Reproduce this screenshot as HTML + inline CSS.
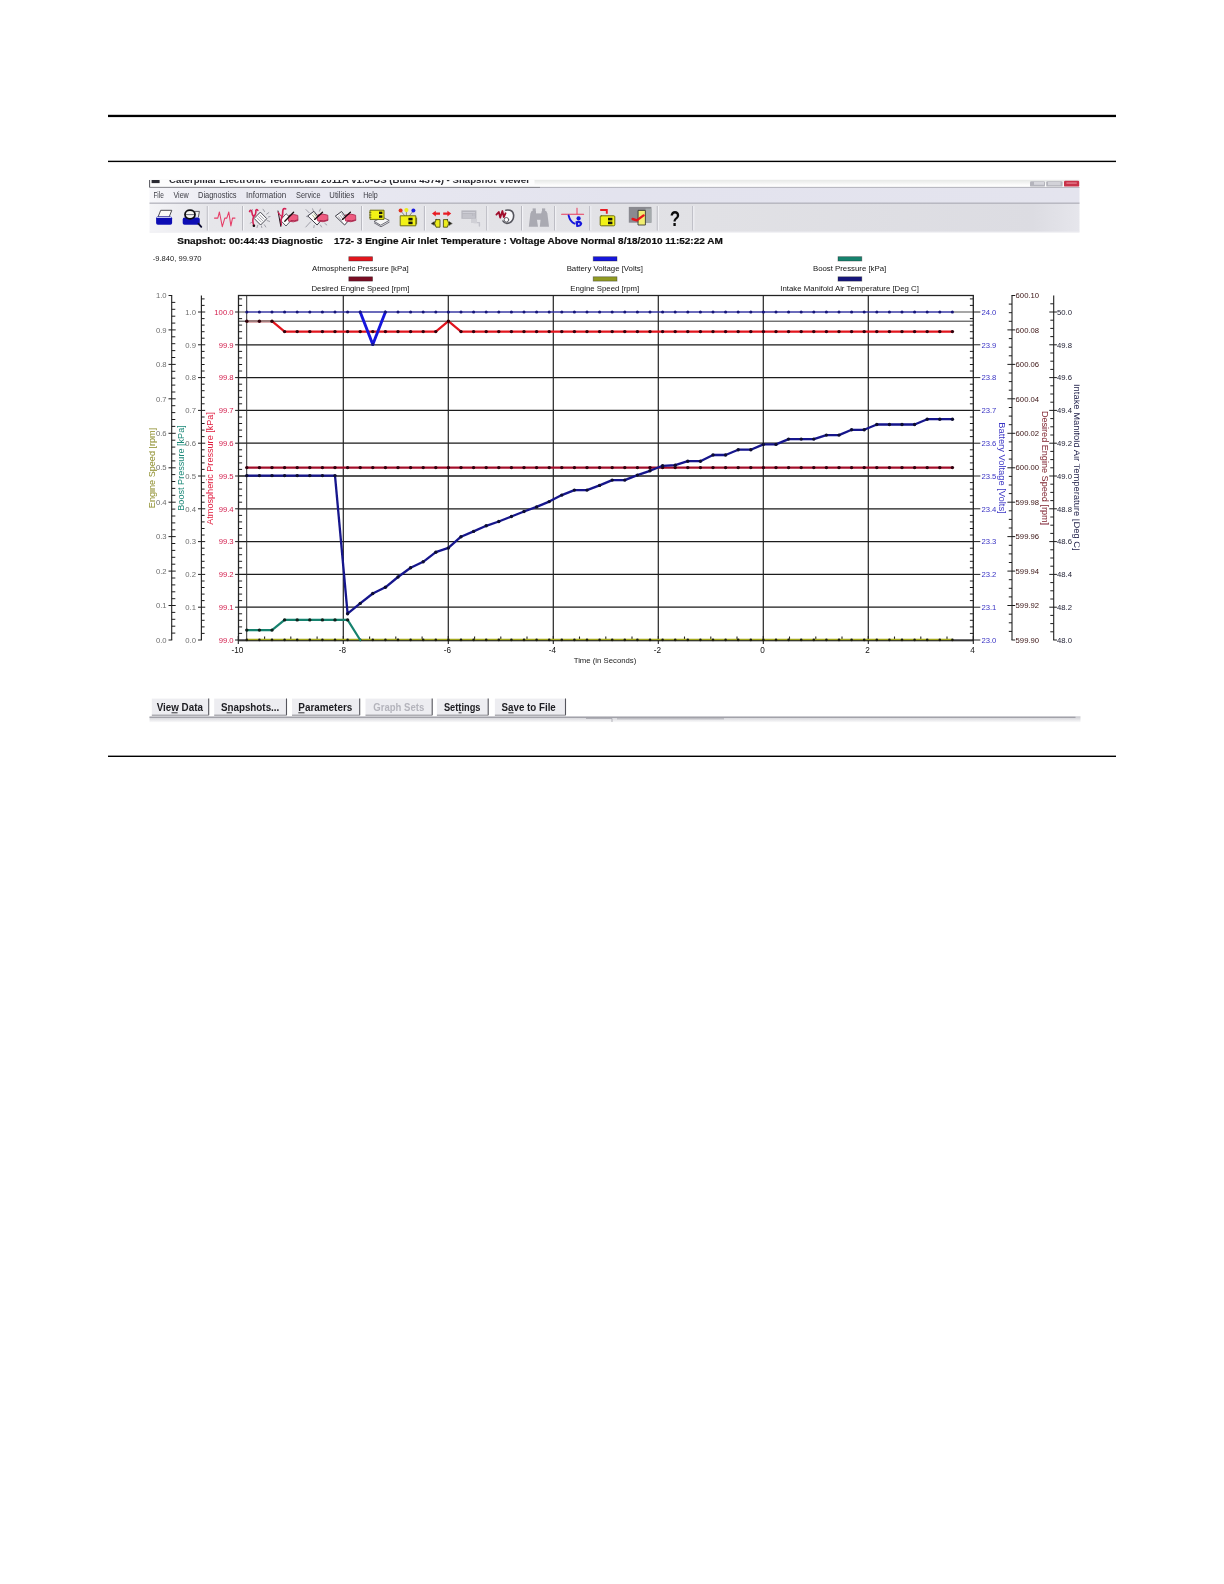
<!DOCTYPE html>
<html><head><meta charset="utf-8"><title>Snapshot Viewer</title>
<style>
html,body{margin:0;padding:0;background:#fff;}
body{width:1224px;height:1584px;overflow:hidden;font-family:"Liberation Sans",sans-serif;}
svg{display:block;}
text{font-family:"Liberation Sans",sans-serif;}
</style></head>
<body>
<svg width="1224" height="1584" viewBox="0 0 1224 1584">
<rect width="1224" height="1584" fill="#fff"/>
<rect x="108" y="114.8" width="1008" height="2.3" fill="#000"/>
<rect x="108" y="160.7" width="1008" height="1.4" fill="#000"/>
<rect x="108" y="755.6" width="1008" height="1.4" fill="#000"/>
<filter id="softblur" x="0" y="0" width="100%" height="100%" filterUnits="userSpaceOnUse" primitiveUnits="userSpaceOnUse"><feGaussianBlur stdDeviation="0.45"/></filter>
<g filter="url(#softblur)">
<defs>
<linearGradient id="tbg" x1="0" y1="0" x2="1" y2="0">
<stop offset="0" stop-color="#f4f4f7"/><stop offset="0.06" stop-color="#e6e6ea"/><stop offset="0.6" stop-color="#e1e1e5"/><stop offset="0.95" stop-color="#dcdce2"/><stop offset="1" stop-color="#e6e6ec"/>
</linearGradient>
<linearGradient id="mbg" x1="0" y1="0" x2="1" y2="0">
<stop offset="0" stop-color="#f6f6fa"/><stop offset="0.08" stop-color="#eaeaf2"/><stop offset="0.5" stop-color="#e3e3ee"/><stop offset="1" stop-color="#e4e4ee"/>
</linearGradient>
<linearGradient id="sbg" x1="0" y1="0" x2="0" y2="1">
<stop offset="0" stop-color="#c4c4ca"/><stop offset="0.3" stop-color="#dadade"/><stop offset="1" stop-color="#fafafb"/>
</linearGradient>
<clipPath id="titleclip"><rect x="149" y="179.9" width="931" height="6.6"/></clipPath>
<linearGradient id="ttl" x1="0" y1="0" x2="0" y2="1"><stop offset="0" stop-color="#e6e8e6"/><stop offset="0.7" stop-color="#fbfbfb"/><stop offset="1" stop-color="#ffffff"/></linearGradient>
</defs>
<g id="chrome" font-family="Liberation Sans, sans-serif">
<!-- title bar remnant -->
<rect x="149.5" y="179.8" width="930" height="7.2" fill="url(#ttl)"/>
<rect x="149.5" y="179.8" width="385" height="7.2" fill="#fdfdfd"/>
<g clip-path="url(#titleclip)">
<rect x="151.6" y="179.9" width="8" height="3.2" fill="#2a2a30"/>
<text x="169" y="182.8" font-size="8.6" font-weight="bold" fill="#2a2a30" textLength="361" lengthAdjust="spacingAndGlyphs">Caterpillar Electronic Technician 2011A v1.0-US (Build 4374) - Snapshot Viewer</text>
</g>
<path d="M149.6 180V187.4H540" stroke="#55555c" stroke-width="1" fill="none"/>
<path d="M540 187.4H1079.5" stroke="#9c9ca6" stroke-width="1" fill="none"/>
<!-- window buttons -->
<rect x="1030" y="181.2" width="15" height="5.4" rx="1.2" fill="#b4b4bc"/>
<rect x="1034" y="181.8" width="10" height="3" fill="#d6d6dc"/>
<rect x="1046.2" y="181.2" width="16.4" height="5.4" rx="1.2" fill="#b4b4bc"/>
<rect x="1048" y="182" width="12.6" height="3.2" fill="#d2d2d8"/>
<rect x="1064" y="180.8" width="15.2" height="5.8" rx="1.2" fill="#c8324a"/>
<rect x="1066.4" y="182.2" width="10.4" height="1.8" fill="#dc6a7c"/>
<!-- menu bar -->
<rect x="149.5" y="187.7" width="930" height="15.4" fill="url(#mbg)"/>
<g font-size="8.2" fill="#3c3c44">
<text x="153.4" y="197.9" textLength="10.4" lengthAdjust="spacingAndGlyphs">File</text>
<text x="173.4" y="197.9" textLength="15.4" lengthAdjust="spacingAndGlyphs">View</text>
<text x="198" y="197.9" textLength="38.6" lengthAdjust="spacingAndGlyphs">Diagnostics</text>
<text x="246" y="197.9" textLength="40.2" lengthAdjust="spacingAndGlyphs">Information</text>
<text x="296" y="197.9" textLength="24.6" lengthAdjust="spacingAndGlyphs">Service</text>
<text x="329.3" y="197.9" textLength="25" lengthAdjust="spacingAndGlyphs">Utilities</text>
<text x="363.2" y="197.9" textLength="14.6" lengthAdjust="spacingAndGlyphs">Help</text>
</g>
<!-- toolbar -->
<rect x="149.5" y="203.1" width="930" height="29" fill="url(#tbg)"/>
<rect x="149.5" y="202.6" width="930" height="1.1" fill="#a8a8b2"/>
<rect x="149.5" y="231.6" width="930" height="1.2" fill="#f0f0f4"/>
<path d="M207.3 206V230.5M242.6 206V230.5M361.6 206V230.5M424.4 206V230.5M486.8 206V230.5M521.6 206V230.5M554.7 206V230.5M589.8 206V230.5M657.3 206V230.5M692.8 206V230.5" stroke="#b4b4bc" stroke-width="1" fill="none"/>
<path d="M208.3 206V230.5M243.6 206V230.5M362.6 206V230.5M425.4 206V230.5M487.8 206V230.5M522.6 206V230.5M555.7 206V230.5M590.8 206V230.5M658.3 206V230.5M693.8 206V230.5" stroke="#f6f6f9" stroke-width="1" fill="none"/>
<g id="icons" stroke-linejoin="round" stroke-linecap="round">
<!-- 1 print -->
<path d="M158.2 216.6L160.7 210.3H171.8L169.3 216.6Z" fill="#fbfbf6" stroke="#3a3a40" stroke-width="0.9"/>
<rect x="156.1" y="216.5" width="16" height="8.2" rx="1.8" fill="#1010b4"/>
<path d="M157 217.4H171" stroke="#d8dcf4" stroke-width="1"/>
<!-- 2 print preview -->
<path d="M194.6 211.4H199.4L198.4 217" fill="#f2f2ee" stroke="#3a3a40" stroke-width="0.8"/>
<rect x="182.7" y="217.6" width="17.1" height="7.2" rx="1.8" fill="#1010b4"/>
<ellipse cx="190" cy="214.5" rx="5" ry="4.3" fill="#f6f6f0" stroke="#0c0c10" stroke-width="1.8"/>
<path d="M186.4 214.6H193.6" stroke="#6c6c78" stroke-width="1"/>
<path d="M198.4 223.6L201.3 226.8" stroke="#0c0c30" stroke-width="1.8"/>
<!-- 3 waveform -->
<path d="M214.5 218.1H217.8L219.4 212L222.3 226.7L224.8 218.1H226.8L228.8 212L230.9 225.9L232.5 218.1H235" fill="none" stroke="#e63c66" stroke-width="1.05"/>
<!-- 4 stethoscope + doc + rays -->
<g>
<path d="M252.5 209.5L250.6 212.2M263 209.2L264.6 211.6M268.8 212.6L266.6 214.2M269.6 221.4L267.2 220.6M265.8 227L264.4 224.8M257 227.6L257.8 225.2M250.2 223.2L252 222.2M268.4 217L270 216.6M261.8 227.6L261.4 226" stroke="#8e8e98" stroke-width="0.8" fill="none"/>
<path d="M260.6 212.4L266.8 218.7L260.6 225L254.4 218.7Z" fill="#fbfbfb" stroke="#4c4c56" stroke-width="1"/>
<path d="M258.6 216.6L262.6 220.6M257.2 218L261.2 222M260 215.2L264 219.2" stroke="#80808c" stroke-width="0.7"/>
<path d="M249.6 211.4Q250.4 209.4 251.6 210.8Q252 214.6 253.6 216.8M257.8 210.4Q256.6 208.6 255.8 210.6Q256.4 214.6 253.6 216.8Q252 221 253.8 225.4" fill="none" stroke="#d42456" stroke-width="1.6"/>
<circle cx="253.9" cy="225.8" r="1.3" fill="#18080c"/>
</g>
<!-- 5 stethoscope + doc + hand -->
<g>
<path d="M286.4 214L292 219.4L286 226L280.6 220.4Z" fill="#fbfbfb" stroke="#4c4c56" stroke-width="0.9"/>
<path d="M285.6 208.8Q283.2 207.8 282.8 210.8Q283 214.8 281.6 217.6Q280.4 221.4 281.2 225" fill="none" stroke="#d42456" stroke-width="1.7"/>
<path d="M278 211L280.8 226.4" stroke="#28101c" stroke-width="1"/>
<path d="M278.4 212.6Q279.8 215.6 282 216.8" fill="none" stroke="#d42456" stroke-width="1.3"/>
<path d="M289.2 215.4Q293.4 213.4 297.8 215.4L298 220.6Q293.6 222.8 288.6 221.2Q287.4 218 289.2 215.4Z" fill="#ee5c80" stroke="#a82c50" stroke-width="0.8"/>
<path d="M291 220.6Q294.4 221.4 297.6 220" fill="none" stroke="#a02448" stroke-width="0.9"/>
<path d="M293.6 212.3L284.8 221.2" stroke="#18080c" stroke-width="1.3"/>
</g>
<!-- 6 rays + doc + hand -->
<g>
<path d="M306 209.6L309.2 212.8M312.6 208.8L313.4 211M320.4 209L319.4 211.2M305.8 227L310.6 221.8M313.8 227.6L314.2 225.4M321.6 227L320.4 225M326.8 225L324.8 223.4M306.4 216.4L307.6 216.8" stroke="#8e8e98" stroke-width="0.8" fill="none"/>
<path d="M314.2 211.6L321 220.6L317.1 225L308 216.2Z" fill="#fbfbfb" stroke="#3c3c46" stroke-width="1"/>
<path d="M312.4 215L315.8 219.4M314 213.6L317.4 218" stroke="#8c9c5c" stroke-width="0.7"/>
<path d="M318 215Q322.8 213 327.8 215.2L328 220.4Q323.2 222.8 317.8 221Q316.4 217.8 318 215Z" fill="#ee5c80" stroke="#a82c50" stroke-width="0.8"/>
<path d="M320 220.6Q324 221.6 327.6 220" fill="none" stroke="#a02448" stroke-width="0.9"/>
<path d="M322.5 212.3L314.6 219.4" stroke="#18080c" stroke-width="1.3"/>
</g>
<!-- 7 doc + hand -->
<g>
<path d="M341.8 211.8L348.6 220.6L344.6 225L335.6 216.4Z" fill="#fbfbfb" stroke="#3c3c46" stroke-width="1"/>
<path d="M340 215.2L343.4 219.6M341.6 213.8L345 218.2M338.4 216.6L341.8 221" stroke="#80808c" stroke-width="0.7"/>
<path d="M345.8 215Q350.6 213 355.6 215.2L355.8 220.4Q351 222.8 345.6 221Q344.2 217.8 345.8 215Z" fill="#ee5c80" stroke="#a82c50" stroke-width="0.8"/>
<path d="M347.8 220.6Q351.8 221.6 355.4 220" fill="none" stroke="#a02448" stroke-width="0.9"/>
<path d="M350.4 212.3L342.4 219.4" stroke="#18080c" stroke-width="1.3"/>
</g>
<!-- 8 ECM + papers -->
<g>
<path d="M374.4 221.2L382.6 217.2L389.2 220.4L381 225Z" fill="#f6f6f6" stroke="#50505a" stroke-width="0.8"/>
<path d="M374.4 223L381 226.8L389.2 222.2" fill="none" stroke="#50505a" stroke-width="0.8"/>
<rect x="370.4" y="210.2" width="13.6" height="9.2" fill="#f2f216" stroke="#6c6c10" stroke-width="1"/>
<rect x="379" y="211.6" width="3.4" height="2.4" fill="#18180c"/>
<rect x="379" y="215.4" width="3.4" height="2.4" fill="#18180c"/>
<path d="M369.6 212.4H371M369.6 215H371M369.6 217.4H371" stroke="#6c6c10" stroke-width="0.9"/>
</g>
<!-- 9 ECM + balls -->
<g>
<path d="M400.8 211L405 216M406.4 210.6V216M413.2 211L409.2 216" stroke="#70706c" stroke-width="0.8"/>
<circle cx="400.6" cy="210.6" r="2" fill="#e0301c"/>
<circle cx="406.4" cy="210.1" r="2.1" fill="#ecec20"/>
<circle cx="413.4" cy="210.6" r="2" fill="#1c1ce0"/>
<rect x="400.6" y="215.8" width="15.2" height="10" fill="#f2f216" stroke="#6c6c10" stroke-width="1"/>
<rect x="408.4" y="217.8" width="4.2" height="2.6" fill="#18180c"/>
<rect x="408.4" y="221.6" width="4.2" height="2.6" fill="#18180c"/>
<path d="M416.6 218V224" stroke="#6c6c10" stroke-width="1"/>
</g>
<!-- 10 arrows + halves -->
<g>
<path d="M432 213.6L435.8 210.8V212.4H440V214.8H435.8V216.4Z" fill="#e81c24"/>
<path d="M451.2 213.6L447.4 210.8V212.4H443.2V214.8H447.4V216.4Z" fill="#e81c24"/>
<path d="M436 219.6H440V227.2H436Q433.2 223.4 436 219.6Z" fill="#ecec1c" stroke="#3c3c0c" stroke-width="0.8"/>
<path d="M447.4 219.6H443.4V227.2H447.4Q450.2 223.4 447.4 219.6Z" fill="#ecec1c" stroke="#3c3c0c" stroke-width="0.8"/>
<path d="M431.4 223.4L434.4 221.6V225.2ZM452 223.4L449 221.6V225.2Z" fill="#28281c" stroke="#28281c" stroke-width="0.4"/>
</g>
<!-- 11 disabled -->
<g>
<rect x="461.4" y="210.4" width="15" height="8.4" fill="#b6b6be"/>
<path d="M463 212.6H474.6M463 215H472M463 217H474.6" stroke="#d8d8de" stroke-width="0.8"/>
<path d="M474 214V222.6H479.4V226" fill="none" stroke="#c4c4cc" stroke-width="1.4"/>
<rect x="471" y="219" width="6" height="4" fill="#d0d0d6"/>
</g>
<!-- 12 ring + squiggle -->
<g>
<path d="M505.8 210.2Q512.8 209.2 513.6 214.8Q514 220.6 509.6 222.8Q504.8 224.4 503 221" fill="#f8f8fa" stroke="#54545c" stroke-width="1.6"/>
<circle cx="506.4" cy="219.8" r="2.3" fill="#fcfcfc" stroke="#5c5c64" stroke-width="1"/>
<path d="M496.4 214.6L498.8 212L500.2 217.6L502.4 211L503.8 217L505.6 213.2" fill="none" stroke="#a0082a" stroke-width="1.8"/>
</g>
<!-- 13 binoculars -->
<g fill="#aaaab2">
<path d="M531.6 211H536V213.6L538 226.8H528.8L530.4 213.6Z"/>
<path d="M541.8 211H546.2L547.4 213.6L549 226.8H539.8L541.2 213.6Z"/>
<rect x="535" y="213.4" width="7.6" height="6.4"/>
<rect x="532.6" y="208.4" width="3.2" height="3"/>
<rect x="542" y="208.4" width="3.2" height="3"/>
</g>
<!-- 14 line + blue figure -->
<g>
<path d="M561.6 214.2H583.6" stroke="#e83a5c" stroke-width="1.1"/>
<path d="M577 208.2V214" stroke="#e83a5c" stroke-width="1"/>
<path d="M568.6 215.4Q570.2 221.8 574.6 223.6" fill="none" stroke="#1414dc" stroke-width="1.9"/>
<circle cx="578.6" cy="218.4" r="2.1" fill="#1414dc"/>
<path d="M575.4 221.4Q581.4 219.6 582.2 223.8Q581 227.4 576.4 227Z" fill="#1414dc"/>
<circle cx="578.8" cy="223.9" r="0.9" fill="#e4e4ec"/>
</g>
<!-- 15 ECM + red arrow -->
<g>
<path d="M600.2 210H606.8V213.8" fill="none" stroke="#e81c24" stroke-width="1.9" stroke-linecap="butt" stroke-linejoin="miter"/>
<rect x="600.2" y="215.8" width="14.6" height="10" rx="1" fill="#f2f216" stroke="#6c6c10" stroke-width="1"/>
<rect x="608" y="217.8" width="4.4" height="2.6" fill="#18180c"/>
<rect x="608" y="221.6" width="4.4" height="2.6" fill="#18180c"/>
</g>
<!-- 16 check box -->
<g>
<rect x="628.8" y="206.9" width="22.6" height="15.8" fill="#8a8a90"/>
<rect x="645.6" y="208.6" width="5.8" height="14.1" fill="#a4aaac"/>
<rect x="638.4" y="210.4" width="7" height="14.6" fill="#f2ee70" stroke="#3c3c34" stroke-width="0.9"/>
<path d="M632.6 219L636.8 220.4L643.6 215.4" fill="none" stroke="#e4141c" stroke-width="2.4"/>
</g>
<!-- 17 question -->
<text x="675" y="225.8" font-family="Liberation Sans, sans-serif" font-size="21.5" font-weight="bold" fill="#0c0c0c" text-anchor="middle" textLength="10.4" lengthAdjust="spacingAndGlyphs">?</text>
</g>

<!-- snapshot title -->
<text x="177.3" y="244.4" font-size="9.9" font-weight="bold" fill="#0c0c0c" stroke="#0c0c0c" stroke-width="0.2" textLength="545.5" lengthAdjust="spacingAndGlyphs" xml:space="preserve">Snapshot: 00:44:43 Diagnostic    172- 3 Engine Air Inlet Temperature : Voltage Above Normal 8/18/2010 11:52:22 AM</text>
<!-- bottom buttons -->
<g>
<rect x="151.8" y="698.6" width="56.9" height="16.6" fill="#ededf1"/>
<rect x="214.2" y="698.6" width="72.3" height="16.6" fill="#ededf1"/>
<rect x="292" y="698.6" width="67.7" height="16.6" fill="#ededf1"/>
<rect x="365.5" y="698.6" width="66.7" height="16.6" fill="#ededf1"/>
<rect x="436.9" y="698.6" width="51.3" height="16.6" fill="#ededf1"/>
<rect x="494.9" y="698.6" width="70.6" height="16.6" fill="#ededf1"/>
<path d="M208.7 698.6V715.2M286.5 698.6V715.2M359.7 698.6V715.2M432.2 698.6V715.2M488.2 698.6V715.2M565.5 698.6V715.2" stroke="#55555c" stroke-width="1.1" fill="none"/>
<path d="M151.8 715.2H208.7M214.2 715.2H286.5M292 715.2H359.7M365.5 715.2H432.2M436.9 715.2H488.2M494.9 715.2H565.5" stroke="#8a8a92" stroke-width="1" fill="none"/>
<g font-size="10" font-weight="bold" fill="#1c1c20">
<text x="156.7" y="711.3" textLength="46.2" lengthAdjust="spacingAndGlyphs">View Data</text>
<text x="220.9" y="711.3" textLength="58.4" lengthAdjust="spacingAndGlyphs">Snapshots...</text>
<text x="298.3" y="711.3" textLength="54" lengthAdjust="spacingAndGlyphs">Parameters</text>
<text x="373.3" y="711.3" textLength="51" lengthAdjust="spacingAndGlyphs" fill="#b4b4bc">Graph Sets</text>
<text x="443.9" y="711.3" textLength="36.6" lengthAdjust="spacingAndGlyphs">Settings</text>
<text x="501.6" y="711.3" textLength="54.2" lengthAdjust="spacingAndGlyphs">Save to File</text>
</g>
<path d="M171.5 712.8H177.6M226.6 712.8H232M298.3 712.8H304.5M458.6 712.8H461.6M508.3 712.8H513.6" stroke="#1c1c20" stroke-width="0.9" fill="none"/>
</g>
<!-- status bar -->
<rect x="149.5" y="716.4" width="931" height="5.8" fill="url(#sbg)"/>
<rect x="149.5" y="716.8" width="926" height="0.9" fill="#8e8e96"/>
<path d="M586 718.5H612V722M617 718.8H724" stroke="#a4a4ac" stroke-width="0.8" fill="none"/>
</g>

<clipPath id="shotclip"><rect x="149" y="179.6" width="930.6" height="556.4"/></clipPath>
<g id="chart" font-family="Liberation Sans, sans-serif" clip-path="url(#shotclip)">
<g stroke="#000" fill="none">
<line x1="238.5" y1="607.2" x2="973.3" y2="607.2" stroke-width="1.3" stroke="#1c1c1c"/>
<line x1="238.5" y1="574.4" x2="973.3" y2="574.4" stroke-width="1.3" stroke="#1c1c1c"/>
<line x1="238.5" y1="541.6" x2="973.3" y2="541.6" stroke-width="1.3" stroke="#1c1c1c"/>
<line x1="238.5" y1="508.8" x2="973.3" y2="508.8" stroke-width="1.3" stroke="#1c1c1c"/>
<line x1="238.5" y1="476.0" x2="973.3" y2="476.0" stroke-width="1.3" stroke="#1c1c1c"/>
<line x1="238.5" y1="443.2" x2="973.3" y2="443.2" stroke-width="1.3" stroke="#1c1c1c"/>
<line x1="238.5" y1="410.4" x2="973.3" y2="410.4" stroke-width="1.3" stroke="#1c1c1c"/>
<line x1="238.5" y1="377.6" x2="973.3" y2="377.6" stroke-width="1.3" stroke="#1c1c1c"/>
<line x1="238.5" y1="344.8" x2="973.3" y2="344.8" stroke-width="1.3" stroke="#1c1c1c"/>
<line x1="238.5" y1="312" x2="973.3" y2="312" stroke-width="0.9" stroke="#3a3a3a"/>
<line x1="238.5" y1="321.2" x2="973.3" y2="321.2" stroke-width="1" stroke="#333"/>
<line x1="246.7" y1="295.5" x2="246.7" y2="640.0" stroke-width="1" stroke="#333"/>
<line x1="343.3" y1="295.5" x2="343.3" y2="640.0" stroke-width="1.2" stroke="#222"/>
<line x1="448.3" y1="295.5" x2="448.3" y2="640.0" stroke-width="1.2" stroke="#222"/>
<line x1="553.3" y1="295.5" x2="553.3" y2="640.0" stroke-width="1.2" stroke="#222"/>
<line x1="658.3" y1="295.5" x2="658.3" y2="640.0" stroke-width="1.2" stroke="#222"/>
<line x1="763.3" y1="295.5" x2="763.3" y2="640.0" stroke-width="1.2" stroke="#222"/>
<line x1="868.3" y1="295.5" x2="868.3" y2="640.0" stroke-width="1.2" stroke="#222"/>
<rect x="238.5" y="295.5" width="734.8" height="344.5" stroke-width="1.3" stroke="#222"/>
</g>
<line x1="171.7" y1="295.5" x2="171.7" y2="640.0" stroke="#1e1e1e" stroke-width="1.1"/>
<path d="M168.5 640.0H172.2M171.7 633.1H175.3M171.7 626.2H175.3M171.7 619.3H175.3M171.7 612.4H175.3M168.5 605.5H175.7M171.7 598.7H175.3M171.7 591.8H175.3M171.7 584.9H175.3M171.7 578.0H175.3M168.5 571.1H175.7M171.7 564.2H175.3M171.7 557.3H175.3M171.7 550.4H175.3M171.7 543.5H175.3M168.5 536.6H175.7M171.7 529.8H175.3M171.7 522.9H175.3M171.7 516.0H175.3M171.7 509.1H175.3M168.5 502.2H175.7M171.7 495.3H175.3M171.7 488.4H175.3M171.7 481.5H175.3M171.7 474.6H175.3M168.5 467.8H175.7M171.7 460.9H175.3M171.7 454.0H175.3M171.7 447.1H175.3M171.7 440.2H175.3M168.5 433.3H175.7M171.7 426.4H175.3M171.7 419.5H175.3M171.7 412.6H175.3M171.7 405.7H175.3M168.5 398.8H175.7M171.7 392.0H175.3M171.7 385.1H175.3M171.7 378.2H175.3M171.7 371.3H175.3M168.5 364.4H175.7M171.7 357.5H175.3M171.7 350.6H175.3M171.7 343.7H175.3M171.7 336.8H175.3M168.5 329.9H175.7M171.7 323.1H175.3M171.7 316.2H175.3M171.7 309.3H175.3M171.7 302.4H175.3M168.5 295.5H172.2" stroke="#1e1e1e" stroke-width="1.0" fill="none"/>
<line x1="201.4" y1="295.5" x2="201.4" y2="640.0" stroke="#1e1e1e" stroke-width="1.1"/>
<path d="M198.0 640.0H201.9M201.4 633.4H204.6M201.4 626.9H204.6M201.4 620.3H204.6M201.4 613.8H204.6M198.0 607.2H205.2M201.4 600.6H204.6M201.4 594.1H204.6M201.4 587.5H204.6M201.4 581.0H204.6M198.0 574.4H205.2M201.4 567.8H204.6M201.4 561.3H204.6M201.4 554.7H204.6M201.4 548.2H204.6M198.0 541.6H205.2M201.4 535.0H204.6M201.4 528.5H204.6M201.4 521.9H204.6M201.4 515.4H204.6M198.0 508.8H205.2M201.4 502.2H204.6M201.4 495.7H204.6M201.4 489.1H204.6M201.4 482.6H204.6M198.0 476.0H205.2M201.4 469.4H204.6M201.4 462.9H204.6M201.4 456.3H204.6M201.4 449.8H204.6M198.0 443.2H205.2M201.4 436.6H204.6M201.4 430.1H204.6M201.4 423.5H204.6M201.4 417.0H204.6M198.0 410.4H205.2M201.4 403.8H204.6M201.4 397.3H204.6M201.4 390.7H204.6M201.4 384.2H204.6M198.0 377.6H205.2M201.4 371.0H204.6M201.4 364.5H204.6M201.4 357.9H204.6M201.4 351.4H204.6M198.0 344.8H205.2M201.4 338.2H204.6M201.4 331.7H204.6M201.4 325.1H204.6M201.4 318.6H204.6M198.0 312.0H205.2M201.4 305.4H204.6M201.4 298.9H204.6" stroke="#1e1e1e" stroke-width="1.0" fill="none"/>
<path d="M235.1 640.0H239.0M238.5 633.4H242.1M238.5 626.9H242.1M238.5 620.3H242.1M238.5 613.8H242.1M235.1 607.2H238.5M238.5 600.6H242.1M238.5 594.1H242.1M238.5 587.5H242.1M238.5 581.0H242.1M235.1 574.4H238.5M238.5 567.8H242.1M238.5 561.3H242.1M238.5 554.7H242.1M238.5 548.2H242.1M235.1 541.6H238.5M238.5 535.0H242.1M238.5 528.5H242.1M238.5 521.9H242.1M238.5 515.4H242.1M235.1 508.8H238.5M238.5 502.2H242.1M238.5 495.7H242.1M238.5 489.1H242.1M238.5 482.6H242.1M235.1 476.0H238.5M238.5 469.4H242.1M238.5 462.9H242.1M238.5 456.3H242.1M238.5 449.8H242.1M235.1 443.2H238.5M238.5 436.6H242.1M238.5 430.1H242.1M238.5 423.5H242.1M238.5 417.0H242.1M235.1 410.4H238.5M238.5 403.8H242.1M238.5 397.3H242.1M238.5 390.7H242.1M238.5 384.2H242.1M235.1 377.6H238.5M238.5 371.0H242.1M238.5 364.5H242.1M238.5 357.9H242.1M238.5 351.4H242.1M235.1 344.8H238.5M238.5 338.2H242.1M238.5 331.7H242.1M238.5 325.1H242.1M238.5 318.6H242.1M235.1 312.0H238.5M238.5 305.4H242.1M238.5 298.9H242.1" stroke="#1e1e1e" stroke-width="1.0" fill="none"/>
<path d="M972.8 640.0H980.3M969.9 633.4H973.3M969.9 626.9H973.3M969.9 620.3H973.3M969.9 613.8H973.3M973.3 607.2H980.3M969.9 600.6H973.3M969.9 594.1H973.3M969.9 587.5H973.3M969.9 581.0H973.3M973.3 574.4H980.3M969.9 567.8H973.3M969.9 561.3H973.3M969.9 554.7H973.3M969.9 548.2H973.3M973.3 541.6H980.3M969.9 535.0H973.3M969.9 528.5H973.3M969.9 521.9H973.3M969.9 515.4H973.3M973.3 508.8H980.3M969.9 502.2H973.3M969.9 495.7H973.3M969.9 489.1H973.3M969.9 482.6H973.3M973.3 476.0H980.3M969.9 469.4H973.3M969.9 462.9H973.3M969.9 456.3H973.3M969.9 449.8H973.3M973.3 443.2H980.3M969.9 436.6H973.3M969.9 430.1H973.3M969.9 423.5H973.3M969.9 417.0H973.3M973.3 410.4H980.3M969.9 403.8H973.3M969.9 397.3H973.3M969.9 390.7H973.3M969.9 384.2H973.3M973.3 377.6H980.3M969.9 371.0H973.3M969.9 364.5H973.3M969.9 357.9H973.3M969.9 351.4H973.3M973.3 344.8H980.3M969.9 338.2H973.3M969.9 331.7H973.3M969.9 325.1H973.3M969.9 318.6H973.3M973.3 312.0H980.3M969.9 305.4H973.3M969.9 298.9H973.3" stroke="#1e1e1e" stroke-width="1.0" fill="none"/>
<line x1="1012" y1="295.5" x2="1012" y2="640.0" stroke="#1e1e1e" stroke-width="1.1"/>
<path d="M1011.5 640.0H1015.2M1008.8 631.4H1012.0M1008.8 622.8H1012.0M1008.8 614.2H1012.0M1007.4 605.5H1015.2M1008.8 596.9H1012.0M1008.8 588.3H1012.0M1008.8 579.7H1012.0M1007.4 571.1H1015.2M1008.8 562.5H1012.0M1008.8 553.9H1012.0M1008.8 545.3H1012.0M1007.4 536.6H1015.2M1008.8 528.0H1012.0M1008.8 519.4H1012.0M1008.8 510.8H1012.0M1007.4 502.2H1015.2M1008.8 493.6H1012.0M1008.8 485.0H1012.0M1008.8 476.4H1012.0M1007.4 467.8H1015.2M1008.8 459.1H1012.0M1008.8 450.5H1012.0M1008.8 441.9H1012.0M1007.4 433.3H1015.2M1008.8 424.7H1012.0M1008.8 416.1H1012.0M1008.8 407.5H1012.0M1007.4 398.8H1015.2M1008.8 390.2H1012.0M1008.8 381.6H1012.0M1008.8 373.0H1012.0M1007.4 364.4H1015.2M1008.8 355.8H1012.0M1008.8 347.2H1012.0M1008.8 338.6H1012.0M1007.4 329.9H1015.2M1008.8 321.3H1012.0M1008.8 312.7H1012.0M1008.8 304.1H1012.0M1011.5 295.5H1015.2" stroke="#1e1e1e" stroke-width="1.0" fill="none"/>
<line x1="1053.7" y1="295.5" x2="1053.7" y2="640.0" stroke="#1e1e1e" stroke-width="1.1"/>
<path d="M1053.2 640.0H1056.9M1050.3 631.8H1053.7M1050.3 623.6H1053.7M1050.3 615.4H1053.7M1049.3 607.2H1056.9M1050.3 599.0H1053.7M1050.3 590.8H1053.7M1050.3 582.6H1053.7M1049.3 574.4H1056.9M1050.3 566.2H1053.7M1050.3 558.0H1053.7M1050.3 549.8H1053.7M1049.3 541.6H1056.9M1050.3 533.4H1053.7M1050.3 525.2H1053.7M1050.3 517.0H1053.7M1049.3 508.8H1056.9M1050.3 500.6H1053.7M1050.3 492.4H1053.7M1050.3 484.2H1053.7M1049.3 476.0H1056.9M1050.3 467.8H1053.7M1050.3 459.6H1053.7M1050.3 451.4H1053.7M1049.3 443.2H1056.9M1050.3 435.0H1053.7M1050.3 426.8H1053.7M1050.3 418.6H1053.7M1049.3 410.4H1056.9M1050.3 402.2H1053.7M1050.3 394.0H1053.7M1050.3 385.8H1053.7M1049.3 377.6H1056.9M1050.3 369.4H1053.7M1050.3 361.2H1053.7M1050.3 353.0H1053.7M1049.3 344.8H1056.9M1050.3 336.6H1053.7M1050.3 328.4H1053.7M1050.3 320.2H1053.7M1049.3 312.0H1056.9M1050.3 303.8H1053.7" stroke="#1e1e1e" stroke-width="1.0" fill="none"/>
<path d="M238.3 636.0V644.0M264.6 636.6V640.0M290.8 636.6V640.0M317.1 636.6V640.0M343.3 636.0V644.0M369.6 636.6V640.0M395.8 636.6V640.0M422.1 636.6V640.0M448.3 636.0V644.0M474.6 636.6V640.0M500.8 636.6V640.0M527.0 636.6V640.0M553.3 636.0V644.0M579.5 636.6V640.0M605.8 636.6V640.0M632.0 636.6V640.0M658.3 636.0V644.0M684.5 636.6V640.0M710.8 636.6V640.0M737.0 636.6V640.0M763.3 636.0V644.0M789.5 636.6V640.0M815.8 636.6V640.0M842.0 636.6V640.0M868.3 636.0V644.0M894.5 636.6V640.0M920.8 636.6V640.0M947.0 636.6V640.0M973.3 636.0V644.0" stroke="#222" stroke-width="1.1" fill="none"/>
<text x="166.6" y="642.7" fill="#6e6e6e" font-size="7.7" text-anchor="end">0.0</text>
<text x="166.6" y="608.2" fill="#6e6e6e" font-size="7.7" text-anchor="end">0.1</text>
<text x="166.6" y="573.8" fill="#6e6e6e" font-size="7.7" text-anchor="end">0.2</text>
<text x="166.6" y="539.4" fill="#6e6e6e" font-size="7.7" text-anchor="end">0.3</text>
<text x="166.6" y="504.9" fill="#6e6e6e" font-size="7.7" text-anchor="end">0.4</text>
<text x="166.6" y="470.4" fill="#6e6e6e" font-size="7.7" text-anchor="end">0.5</text>
<text x="166.6" y="436.0" fill="#6e6e6e" font-size="7.7" text-anchor="end">0.6</text>
<text x="166.6" y="401.5" fill="#6e6e6e" font-size="7.7" text-anchor="end">0.7</text>
<text x="166.6" y="367.1" fill="#6e6e6e" font-size="7.7" text-anchor="end">0.8</text>
<text x="166.6" y="332.6" fill="#6e6e6e" font-size="7.7" text-anchor="end">0.9</text>
<text x="166.6" y="298.2" fill="#6e6e6e" font-size="7.7" text-anchor="end">1.0</text>
<text x="196.0" y="642.7" fill="#6e6e6e" font-size="7.7" text-anchor="end">0.0</text>
<text x="196.0" y="609.9" fill="#6e6e6e" font-size="7.7" text-anchor="end">0.1</text>
<text x="196.0" y="577.1" fill="#6e6e6e" font-size="7.7" text-anchor="end">0.2</text>
<text x="196.0" y="544.3" fill="#6e6e6e" font-size="7.7" text-anchor="end">0.3</text>
<text x="196.0" y="511.5" fill="#6e6e6e" font-size="7.7" text-anchor="end">0.4</text>
<text x="196.0" y="478.7" fill="#6e6e6e" font-size="7.7" text-anchor="end">0.5</text>
<text x="196.0" y="445.9" fill="#6e6e6e" font-size="7.7" text-anchor="end">0.6</text>
<text x="196.0" y="413.1" fill="#6e6e6e" font-size="7.7" text-anchor="end">0.7</text>
<text x="196.0" y="380.3" fill="#6e6e6e" font-size="7.7" text-anchor="end">0.8</text>
<text x="196.0" y="347.5" fill="#6e6e6e" font-size="7.7" text-anchor="end">0.9</text>
<text x="196.0" y="314.7" fill="#6e6e6e" font-size="7.7" text-anchor="end">1.0</text>
<text x="233.6" y="642.7" fill="#d4214f" font-size="7.7" text-anchor="end">99.0</text>
<text x="233.6" y="609.9" fill="#d4214f" font-size="7.7" text-anchor="end">99.1</text>
<text x="233.6" y="577.1" fill="#d4214f" font-size="7.7" text-anchor="end">99.2</text>
<text x="233.6" y="544.3" fill="#d4214f" font-size="7.7" text-anchor="end">99.3</text>
<text x="233.6" y="511.5" fill="#d4214f" font-size="7.7" text-anchor="end">99.4</text>
<text x="233.6" y="478.7" fill="#d4214f" font-size="7.7" text-anchor="end">99.5</text>
<text x="233.6" y="445.9" fill="#d4214f" font-size="7.7" text-anchor="end">99.6</text>
<text x="233.6" y="413.1" fill="#d4214f" font-size="7.7" text-anchor="end">99.7</text>
<text x="233.6" y="380.3" fill="#d4214f" font-size="7.7" text-anchor="end">99.8</text>
<text x="233.6" y="347.5" fill="#d4214f" font-size="7.7" text-anchor="end">99.9</text>
<text x="233.6" y="314.7" fill="#d4214f" font-size="7.7" text-anchor="end">100.0</text>
<text x="981.4" y="642.7" fill="#3a34c4" font-size="7.7" text-anchor="start">23.0</text>
<text x="981.4" y="609.9" fill="#3a34c4" font-size="7.7" text-anchor="start">23.1</text>
<text x="981.4" y="577.1" fill="#3a34c4" font-size="7.7" text-anchor="start">23.2</text>
<text x="981.4" y="544.3" fill="#3a34c4" font-size="7.7" text-anchor="start">23.3</text>
<text x="981.4" y="511.5" fill="#3a34c4" font-size="7.7" text-anchor="start">23.4</text>
<text x="981.4" y="478.7" fill="#3a34c4" font-size="7.7" text-anchor="start">23.5</text>
<text x="981.4" y="445.9" fill="#3a34c4" font-size="7.7" text-anchor="start">23.6</text>
<text x="981.4" y="413.1" fill="#3a34c4" font-size="7.7" text-anchor="start">23.7</text>
<text x="981.4" y="380.3" fill="#3a34c4" font-size="7.7" text-anchor="start">23.8</text>
<text x="981.4" y="347.5" fill="#3a34c4" font-size="7.7" text-anchor="start">23.9</text>
<text x="981.4" y="314.7" fill="#3a34c4" font-size="7.7" text-anchor="start">24.0</text>
<text x="1015.6" y="642.7" fill="#3a1414" font-size="7.7" text-anchor="start">599.90</text>
<text x="1015.6" y="608.2" fill="#3a1414" font-size="7.7" text-anchor="start">599.92</text>
<text x="1015.6" y="573.8" fill="#3a1414" font-size="7.7" text-anchor="start">599.94</text>
<text x="1015.6" y="539.4" fill="#3a1414" font-size="7.7" text-anchor="start">599.96</text>
<text x="1015.6" y="504.9" fill="#3a1414" font-size="7.7" text-anchor="start">599.98</text>
<text x="1015.6" y="470.4" fill="#3a1414" font-size="7.7" text-anchor="start">600.00</text>
<text x="1015.6" y="436.0" fill="#3a1414" font-size="7.7" text-anchor="start">600.02</text>
<text x="1015.6" y="401.5" fill="#3a1414" font-size="7.7" text-anchor="start">600.04</text>
<text x="1015.6" y="367.1" fill="#3a1414" font-size="7.7" text-anchor="start">600.06</text>
<text x="1015.6" y="332.6" fill="#3a1414" font-size="7.7" text-anchor="start">600.08</text>
<text x="1015.6" y="298.2" fill="#3a1414" font-size="7.7" text-anchor="start">600.10</text>
<text x="1057" y="642.7" fill="#1c1c30" font-size="7.7" text-anchor="start">48.0</text>
<text x="1057" y="609.9" fill="#1c1c30" font-size="7.7" text-anchor="start">48.2</text>
<text x="1057" y="577.1" fill="#1c1c30" font-size="7.7" text-anchor="start">48.4</text>
<text x="1057" y="544.3" fill="#1c1c30" font-size="7.7" text-anchor="start">48.6</text>
<text x="1057" y="511.5" fill="#1c1c30" font-size="7.7" text-anchor="start">48.8</text>
<text x="1057" y="478.7" fill="#1c1c30" font-size="7.7" text-anchor="start">49.0</text>
<text x="1057" y="445.9" fill="#1c1c30" font-size="7.7" text-anchor="start">49.2</text>
<text x="1057" y="413.1" fill="#1c1c30" font-size="7.7" text-anchor="start">49.4</text>
<text x="1057" y="380.3" fill="#1c1c30" font-size="7.7" text-anchor="start">49.6</text>
<text x="1057" y="347.5" fill="#1c1c30" font-size="7.7" text-anchor="start">49.8</text>
<text x="1057" y="314.7" fill="#1c1c30" font-size="7.7" text-anchor="start">50.0</text>
<text x="237.5" y="653.4" fill="#151515" font-size="8.2" text-anchor="middle">-10</text>
<text x="342.5" y="653.4" fill="#151515" font-size="8.2" text-anchor="middle">-8</text>
<text x="447.5" y="653.4" fill="#151515" font-size="8.2" text-anchor="middle">-6</text>
<text x="552.5" y="653.4" fill="#151515" font-size="8.2" text-anchor="middle">-4</text>
<text x="657.5" y="653.4" fill="#151515" font-size="8.2" text-anchor="middle">-2</text>
<text x="762.5" y="653.4" fill="#151515" font-size="8.2" text-anchor="middle">0</text>
<text x="867.5" y="653.4" fill="#151515" font-size="8.2" text-anchor="middle">2</text>
<text x="972.5" y="653.4" fill="#151515" font-size="8.2" text-anchor="middle">4</text>
<text x="605" y="662.9" fill="#1c1c1c" font-size="7.75" text-anchor="middle">Time (in Seconds)</text>
<text transform="translate(155.2,468) rotate(-90)" fill="#8c8c28" font-size="9.1" text-anchor="middle">Engine Speed [rpm]</text>
<text transform="translate(184.0,468) rotate(-90)" fill="#1c8878" font-size="9.1" text-anchor="middle">Boost Pressure [kPa]</text>
<text transform="translate(212.5,468.4) rotate(-90)" fill="#e01c3c" font-size="9.1" text-anchor="middle">Atmospheric Pressure [kPa]</text>
<text transform="translate(999.3,468) rotate(90)" fill="#3a34c4" font-size="9.35" text-anchor="middle">Battery Voltage [Volts]</text>
<text transform="translate(1041.6,468) rotate(90)" fill="#7a1c28" font-size="9.1" text-anchor="middle">Desired Engine Speed [rpm]</text>
<text transform="translate(1074.4,467.3) rotate(90)" fill="#20204a" font-size="9.4" text-anchor="middle">Intake Manifold Air Temperature [Deg C]</text>
<polyline points="246.8,639.7 259.4,639.7 272.0,639.7 284.6,639.7 297.2,639.7 309.8,639.7 322.4,639.7 335.0,639.7 347.6,639.7 360.2,639.7 372.8,639.7 385.4,639.7 398.0,639.7 410.6,639.7 423.2,639.7 435.8,639.7 448.4,639.7 461.0,639.7 473.6,639.7 486.2,639.7 498.8,639.7 511.4,639.7 524.0,639.7 536.6,639.7 549.2,639.7 561.8,639.7 574.4,639.7 587.0,639.7 599.6,639.7 612.2,639.7 624.8,639.7 637.4,639.7 650.0,639.7 662.6,639.7 675.2,639.7 687.8,639.7 700.4,639.7 713.0,639.7 725.6,639.7 738.2,639.7 750.8,639.7 763.4,639.7 776.0,639.7 788.6,639.7 801.2,639.7 813.8,639.7 826.4,639.7 839.0,639.7 851.6,639.7 864.2,639.7 876.8,639.7 889.4,639.7 902.0,639.7 914.6,639.7 927.2,639.7 939.8,639.7 952.4,639.7" fill="none" stroke="#a4a81c" stroke-width="1.7" stroke-linejoin="round" stroke-linecap="round"/>
<line x1="238.5" y1="640.8" x2="973.3" y2="640.8" stroke="#1c1c1c" stroke-width="1.0"/>
<g fill="#1c1c10"><circle cx="246.8" cy="639.9" r="1.3"/><circle cx="259.4" cy="639.9" r="1.3"/><circle cx="272.0" cy="639.9" r="1.3"/><circle cx="284.6" cy="639.9" r="1.3"/><circle cx="297.2" cy="639.9" r="1.3"/><circle cx="309.8" cy="639.9" r="1.3"/><circle cx="322.4" cy="639.9" r="1.3"/><circle cx="335.0" cy="639.9" r="1.3"/><circle cx="347.6" cy="639.9" r="1.3"/><circle cx="360.2" cy="639.9" r="1.3"/><circle cx="372.8" cy="639.9" r="1.3"/><circle cx="385.4" cy="639.9" r="1.3"/><circle cx="398.0" cy="639.9" r="1.3"/><circle cx="410.6" cy="639.9" r="1.3"/><circle cx="423.2" cy="639.9" r="1.3"/><circle cx="435.8" cy="639.9" r="1.3"/><circle cx="448.4" cy="639.9" r="1.3"/><circle cx="461.0" cy="639.9" r="1.3"/><circle cx="473.6" cy="639.9" r="1.3"/><circle cx="486.2" cy="639.9" r="1.3"/><circle cx="498.8" cy="639.9" r="1.3"/><circle cx="511.4" cy="639.9" r="1.3"/><circle cx="524.0" cy="639.9" r="1.3"/><circle cx="536.6" cy="639.9" r="1.3"/><circle cx="549.2" cy="639.9" r="1.3"/><circle cx="561.8" cy="639.9" r="1.3"/><circle cx="574.4" cy="639.9" r="1.3"/><circle cx="587.0" cy="639.9" r="1.3"/><circle cx="599.6" cy="639.9" r="1.3"/><circle cx="612.2" cy="639.9" r="1.3"/><circle cx="624.8" cy="639.9" r="1.3"/><circle cx="637.4" cy="639.9" r="1.3"/><circle cx="650.0" cy="639.9" r="1.3"/><circle cx="662.6" cy="639.9" r="1.3"/><circle cx="675.2" cy="639.9" r="1.3"/><circle cx="687.8" cy="639.9" r="1.3"/><circle cx="700.4" cy="639.9" r="1.3"/><circle cx="713.0" cy="639.9" r="1.3"/><circle cx="725.6" cy="639.9" r="1.3"/><circle cx="738.2" cy="639.9" r="1.3"/><circle cx="750.8" cy="639.9" r="1.3"/><circle cx="763.4" cy="639.9" r="1.3"/><circle cx="776.0" cy="639.9" r="1.3"/><circle cx="788.6" cy="639.9" r="1.3"/><circle cx="801.2" cy="639.9" r="1.3"/><circle cx="813.8" cy="639.9" r="1.3"/><circle cx="826.4" cy="639.9" r="1.3"/><circle cx="839.0" cy="639.9" r="1.3"/><circle cx="851.6" cy="639.9" r="1.3"/><circle cx="864.2" cy="639.9" r="1.3"/><circle cx="876.8" cy="639.9" r="1.3"/><circle cx="889.4" cy="639.9" r="1.3"/><circle cx="902.0" cy="639.9" r="1.3"/><circle cx="914.6" cy="639.9" r="1.3"/><circle cx="927.2" cy="639.9" r="1.3"/><circle cx="939.8" cy="639.9" r="1.3"/><circle cx="952.4" cy="639.9" r="1.3"/></g>
<polyline points="246.8,630.1 259.4,630.1 272.0,630.1 284.6,619.9 297.2,619.9 309.8,619.9 322.4,619.9 335.0,619.9 347.6,619.9 360.2,640.0" fill="none" stroke="#15826e" stroke-width="2.2" stroke-linejoin="round" stroke-linecap="round"/>
<g fill="#10201c"><circle cx="246.8" cy="630.1" r="1.7"/><circle cx="259.4" cy="630.1" r="1.7"/><circle cx="272.0" cy="630.1" r="1.7"/><circle cx="284.6" cy="619.9" r="1.7"/><circle cx="297.2" cy="619.9" r="1.7"/><circle cx="309.8" cy="619.9" r="1.7"/><circle cx="322.4" cy="619.9" r="1.7"/><circle cx="335.0" cy="619.9" r="1.7"/><circle cx="347.6" cy="619.9" r="1.7"/></g>
<polyline points="246.8,467.6 259.4,467.6 272.0,467.6 284.6,467.6 297.2,467.6 309.8,467.6 322.4,467.6 335.0,467.6 347.6,467.6 360.2,467.6 372.8,467.6 385.4,467.6 398.0,467.6 410.6,467.6 423.2,467.6 435.8,467.6 448.4,467.6 461.0,467.6 473.6,467.6 486.2,467.6 498.8,467.6 511.4,467.6 524.0,467.6 536.6,467.6 549.2,467.6 561.8,467.6 574.4,467.6 587.0,467.6 599.6,467.6 612.2,467.6 624.8,467.6 637.4,467.6 650.0,467.6 662.6,467.6 675.2,467.6 687.8,467.6 700.4,467.6 713.0,467.6 725.6,467.6 738.2,467.6 750.8,467.6 763.4,467.6 776.0,467.6 788.6,467.6 801.2,467.6 813.8,467.6 826.4,467.6 839.0,467.6 851.6,467.6 864.2,467.6 876.8,467.6 889.4,467.6 902.0,467.6 914.6,467.6 927.2,467.6 939.8,467.6 952.4,467.6" fill="none" stroke="#a4102c" stroke-width="2.2" stroke-linejoin="round" stroke-linecap="round"/>
<g fill="#300410"><circle cx="246.8" cy="467.6" r="1.7"/><circle cx="259.4" cy="467.6" r="1.7"/><circle cx="272.0" cy="467.6" r="1.7"/><circle cx="284.6" cy="467.6" r="1.7"/><circle cx="297.2" cy="467.6" r="1.7"/><circle cx="309.8" cy="467.6" r="1.7"/><circle cx="322.4" cy="467.6" r="1.7"/><circle cx="335.0" cy="467.6" r="1.7"/><circle cx="347.6" cy="467.6" r="1.7"/><circle cx="360.2" cy="467.6" r="1.7"/><circle cx="372.8" cy="467.6" r="1.7"/><circle cx="385.4" cy="467.6" r="1.7"/><circle cx="398.0" cy="467.6" r="1.7"/><circle cx="410.6" cy="467.6" r="1.7"/><circle cx="423.2" cy="467.6" r="1.7"/><circle cx="435.8" cy="467.6" r="1.7"/><circle cx="448.4" cy="467.6" r="1.7"/><circle cx="461.0" cy="467.6" r="1.7"/><circle cx="473.6" cy="467.6" r="1.7"/><circle cx="486.2" cy="467.6" r="1.7"/><circle cx="498.8" cy="467.6" r="1.7"/><circle cx="511.4" cy="467.6" r="1.7"/><circle cx="524.0" cy="467.6" r="1.7"/><circle cx="536.6" cy="467.6" r="1.7"/><circle cx="549.2" cy="467.6" r="1.7"/><circle cx="561.8" cy="467.6" r="1.7"/><circle cx="574.4" cy="467.6" r="1.7"/><circle cx="587.0" cy="467.6" r="1.7"/><circle cx="599.6" cy="467.6" r="1.7"/><circle cx="612.2" cy="467.6" r="1.7"/><circle cx="624.8" cy="467.6" r="1.7"/><circle cx="637.4" cy="467.6" r="1.7"/><circle cx="650.0" cy="467.6" r="1.7"/><circle cx="662.6" cy="467.6" r="1.7"/><circle cx="675.2" cy="467.6" r="1.7"/><circle cx="687.8" cy="467.6" r="1.7"/><circle cx="700.4" cy="467.6" r="1.7"/><circle cx="713.0" cy="467.6" r="1.7"/><circle cx="725.6" cy="467.6" r="1.7"/><circle cx="738.2" cy="467.6" r="1.7"/><circle cx="750.8" cy="467.6" r="1.7"/><circle cx="763.4" cy="467.6" r="1.7"/><circle cx="776.0" cy="467.6" r="1.7"/><circle cx="788.6" cy="467.6" r="1.7"/><circle cx="801.2" cy="467.6" r="1.7"/><circle cx="813.8" cy="467.6" r="1.7"/><circle cx="826.4" cy="467.6" r="1.7"/><circle cx="839.0" cy="467.6" r="1.7"/><circle cx="851.6" cy="467.6" r="1.7"/><circle cx="864.2" cy="467.6" r="1.7"/><circle cx="876.8" cy="467.6" r="1.7"/><circle cx="889.4" cy="467.6" r="1.7"/><circle cx="902.0" cy="467.6" r="1.7"/><circle cx="914.6" cy="467.6" r="1.7"/><circle cx="927.2" cy="467.6" r="1.7"/><circle cx="939.8" cy="467.6" r="1.7"/><circle cx="952.4" cy="467.6" r="1.7"/></g>
<polyline points="246.8,321.2 259.4,321.2 272.0,321.2 284.6,331.6 297.2,331.6 309.8,331.6 322.4,331.6 335.0,331.6 347.6,331.6 360.2,331.6 372.8,331.6 385.4,331.6 398.0,331.6 410.6,331.6 423.2,331.6 435.8,331.6 448.4,321.2 461.0,331.6 473.6,331.6 486.2,331.6 498.8,331.6 511.4,331.6 524.0,331.6 536.6,331.6 549.2,331.6 561.8,331.6 574.4,331.6 587.0,331.6 599.6,331.6 612.2,331.6 624.8,331.6 637.4,331.6 650.0,331.6 662.6,331.6 675.2,331.6 687.8,331.6 700.4,331.6 713.0,331.6 725.6,331.6 738.2,331.6 750.8,331.6 763.4,331.6 776.0,331.6 788.6,331.6 801.2,331.6 813.8,331.6 826.4,331.6 839.0,331.6 851.6,331.6 864.2,331.6 876.8,331.6 889.4,331.6 902.0,331.6 914.6,331.6 927.2,331.6 939.8,331.6 952.4,331.6" fill="none" stroke="#e2121e" stroke-width="2.2" stroke-linejoin="round" stroke-linecap="round"/>
<polyline points="246.8,321.2 259.4,321.2 272.0,321.2" fill="none" stroke="#9c7c7c" stroke-width="2.2" stroke-linejoin="round" stroke-linecap="round"/>
<g fill="#300408"><circle cx="246.8" cy="321.2" r="1.7"/><circle cx="259.4" cy="321.2" r="1.7"/><circle cx="272.0" cy="321.2" r="1.7"/><circle cx="284.6" cy="331.6" r="1.7"/><circle cx="297.2" cy="331.6" r="1.7"/><circle cx="309.8" cy="331.6" r="1.7"/><circle cx="322.4" cy="331.6" r="1.7"/><circle cx="335.0" cy="331.6" r="1.7"/><circle cx="347.6" cy="331.6" r="1.7"/><circle cx="360.2" cy="331.6" r="1.7"/><circle cx="372.8" cy="331.6" r="1.7"/><circle cx="385.4" cy="331.6" r="1.7"/><circle cx="398.0" cy="331.6" r="1.7"/><circle cx="410.6" cy="331.6" r="1.7"/><circle cx="423.2" cy="331.6" r="1.7"/><circle cx="435.8" cy="331.6" r="1.7"/><circle cx="448.4" cy="321.2" r="1.7"/><circle cx="461.0" cy="331.6" r="1.7"/><circle cx="473.6" cy="331.6" r="1.7"/><circle cx="486.2" cy="331.6" r="1.7"/><circle cx="498.8" cy="331.6" r="1.7"/><circle cx="511.4" cy="331.6" r="1.7"/><circle cx="524.0" cy="331.6" r="1.7"/><circle cx="536.6" cy="331.6" r="1.7"/><circle cx="549.2" cy="331.6" r="1.7"/><circle cx="561.8" cy="331.6" r="1.7"/><circle cx="574.4" cy="331.6" r="1.7"/><circle cx="587.0" cy="331.6" r="1.7"/><circle cx="599.6" cy="331.6" r="1.7"/><circle cx="612.2" cy="331.6" r="1.7"/><circle cx="624.8" cy="331.6" r="1.7"/><circle cx="637.4" cy="331.6" r="1.7"/><circle cx="650.0" cy="331.6" r="1.7"/><circle cx="662.6" cy="331.6" r="1.7"/><circle cx="675.2" cy="331.6" r="1.7"/><circle cx="687.8" cy="331.6" r="1.7"/><circle cx="700.4" cy="331.6" r="1.7"/><circle cx="713.0" cy="331.6" r="1.7"/><circle cx="725.6" cy="331.6" r="1.7"/><circle cx="738.2" cy="331.6" r="1.7"/><circle cx="750.8" cy="331.6" r="1.7"/><circle cx="763.4" cy="331.6" r="1.7"/><circle cx="776.0" cy="331.6" r="1.7"/><circle cx="788.6" cy="331.6" r="1.7"/><circle cx="801.2" cy="331.6" r="1.7"/><circle cx="813.8" cy="331.6" r="1.7"/><circle cx="826.4" cy="331.6" r="1.7"/><circle cx="839.0" cy="331.6" r="1.7"/><circle cx="851.6" cy="331.6" r="1.7"/><circle cx="864.2" cy="331.6" r="1.7"/><circle cx="876.8" cy="331.6" r="1.7"/><circle cx="889.4" cy="331.6" r="1.7"/><circle cx="902.0" cy="331.6" r="1.7"/><circle cx="914.6" cy="331.6" r="1.7"/><circle cx="927.2" cy="331.6" r="1.7"/><circle cx="939.8" cy="331.6" r="1.7"/><circle cx="952.4" cy="331.6" r="1.7"/></g>
<polyline points="246.8,312.0 259.4,312.0 272.0,312.0 284.6,312.0 297.2,312.0 309.8,312.0 322.4,312.0 335.0,312.0 347.6,312.0 360.2,312.0 372.8,312.0 385.4,312.0 398.0,312.0 410.6,312.0 423.2,312.0 435.8,312.0 448.4,312.0 461.0,312.0 473.6,312.0 486.2,312.0 498.8,312.0 511.4,312.0 524.0,312.0 536.6,312.0 549.2,312.0 561.8,312.0 574.4,312.0 587.0,312.0 599.6,312.0 612.2,312.0 624.8,312.0 637.4,312.0 650.0,312.0 662.6,312.0 675.2,312.0 687.8,312.0 700.4,312.0 713.0,312.0 725.6,312.0 738.2,312.0 750.8,312.0 763.4,312.0 776.0,312.0 788.6,312.0 801.2,312.0 813.8,312.0 826.4,312.0 839.0,312.0 851.6,312.0 864.2,312.0 876.8,312.0 889.4,312.0 902.0,312.0 914.6,312.0 927.2,312.0 939.8,312.0 952.4,312.0" fill="none" stroke="#3030d0" stroke-width="1.1" stroke-linejoin="round" stroke-linecap="round"/>
<polyline points="360.2,312.0 372.8,344.6 385.4,312.0" fill="none" stroke="#1616dc" stroke-width="2.9" stroke-linejoin="round" stroke-linecap="round"/>
<g fill="#141478"><circle cx="246.8" cy="312.0" r="1.5"/><circle cx="259.4" cy="312.0" r="1.5"/><circle cx="272.0" cy="312.0" r="1.5"/><circle cx="284.6" cy="312.0" r="1.5"/><circle cx="297.2" cy="312.0" r="1.5"/><circle cx="309.8" cy="312.0" r="1.5"/><circle cx="322.4" cy="312.0" r="1.5"/><circle cx="335.0" cy="312.0" r="1.5"/><circle cx="347.6" cy="312.0" r="1.5"/><circle cx="360.2" cy="312.0" r="1.5"/><circle cx="372.8" cy="344.6" r="1.5"/><circle cx="385.4" cy="312.0" r="1.5"/><circle cx="398.0" cy="312.0" r="1.5"/><circle cx="410.6" cy="312.0" r="1.5"/><circle cx="423.2" cy="312.0" r="1.5"/><circle cx="435.8" cy="312.0" r="1.5"/><circle cx="448.4" cy="312.0" r="1.5"/><circle cx="461.0" cy="312.0" r="1.5"/><circle cx="473.6" cy="312.0" r="1.5"/><circle cx="486.2" cy="312.0" r="1.5"/><circle cx="498.8" cy="312.0" r="1.5"/><circle cx="511.4" cy="312.0" r="1.5"/><circle cx="524.0" cy="312.0" r="1.5"/><circle cx="536.6" cy="312.0" r="1.5"/><circle cx="549.2" cy="312.0" r="1.5"/><circle cx="561.8" cy="312.0" r="1.5"/><circle cx="574.4" cy="312.0" r="1.5"/><circle cx="587.0" cy="312.0" r="1.5"/><circle cx="599.6" cy="312.0" r="1.5"/><circle cx="612.2" cy="312.0" r="1.5"/><circle cx="624.8" cy="312.0" r="1.5"/><circle cx="637.4" cy="312.0" r="1.5"/><circle cx="650.0" cy="312.0" r="1.5"/><circle cx="662.6" cy="312.0" r="1.5"/><circle cx="675.2" cy="312.0" r="1.5"/><circle cx="687.8" cy="312.0" r="1.5"/><circle cx="700.4" cy="312.0" r="1.5"/><circle cx="713.0" cy="312.0" r="1.5"/><circle cx="725.6" cy="312.0" r="1.5"/><circle cx="738.2" cy="312.0" r="1.5"/><circle cx="750.8" cy="312.0" r="1.5"/><circle cx="763.4" cy="312.0" r="1.5"/><circle cx="776.0" cy="312.0" r="1.5"/><circle cx="788.6" cy="312.0" r="1.5"/><circle cx="801.2" cy="312.0" r="1.5"/><circle cx="813.8" cy="312.0" r="1.5"/><circle cx="826.4" cy="312.0" r="1.5"/><circle cx="839.0" cy="312.0" r="1.5"/><circle cx="851.6" cy="312.0" r="1.5"/><circle cx="864.2" cy="312.0" r="1.5"/><circle cx="876.8" cy="312.0" r="1.5"/><circle cx="889.4" cy="312.0" r="1.5"/><circle cx="902.0" cy="312.0" r="1.5"/><circle cx="914.6" cy="312.0" r="1.5"/><circle cx="927.2" cy="312.0" r="1.5"/><circle cx="939.8" cy="312.0" r="1.5"/><circle cx="952.4" cy="312.0" r="1.5"/></g>
<polyline points="246.8,475.6 259.4,475.6 272.0,475.6 284.6,475.6 297.2,475.6 309.8,475.6 322.4,475.6 335.0,475.6 347.6,613.7 360.2,603.4 372.8,593.5 385.4,587.3 398.0,577.0 410.6,567.7 423.2,561.8 435.8,552.2 448.4,547.9 461.0,536.7 473.6,531.4 486.2,525.8 498.8,521.5 511.4,516.5 524.0,511.5 536.6,506.9 549.2,501.6 561.8,495.1 574.4,490.1 587.0,490.1 599.6,485.4 612.2,480.1 624.8,480.1 637.4,475.1 650.0,470.8 662.6,465.8 675.2,465.2 687.8,461.2 700.4,461.2 713.0,455.0 725.6,455.0 738.2,449.7 750.8,449.7 763.4,444.4 776.0,444.4 788.6,439.1 801.2,439.1 813.8,439.1 826.4,435.1 839.0,435.1 851.6,429.8 864.2,429.8 876.8,424.5 889.4,424.5 902.0,424.5 914.6,424.5 927.2,419.2 939.8,419.2 952.4,419.2" fill="none" stroke="#16168c" stroke-width="2.3" stroke-linejoin="round" stroke-linecap="round"/>
<g fill="#0c0c30"><circle cx="246.8" cy="475.6" r="1.7"/><circle cx="259.4" cy="475.6" r="1.7"/><circle cx="272.0" cy="475.6" r="1.7"/><circle cx="284.6" cy="475.6" r="1.7"/><circle cx="297.2" cy="475.6" r="1.7"/><circle cx="309.8" cy="475.6" r="1.7"/><circle cx="322.4" cy="475.6" r="1.7"/><circle cx="335.0" cy="475.6" r="1.7"/><circle cx="347.6" cy="613.7" r="1.7"/><circle cx="360.2" cy="603.4" r="1.7"/><circle cx="372.8" cy="593.5" r="1.7"/><circle cx="385.4" cy="587.3" r="1.7"/><circle cx="398.0" cy="577.0" r="1.7"/><circle cx="410.6" cy="567.7" r="1.7"/><circle cx="423.2" cy="561.8" r="1.7"/><circle cx="435.8" cy="552.2" r="1.7"/><circle cx="448.4" cy="547.9" r="1.7"/><circle cx="461.0" cy="536.7" r="1.7"/><circle cx="473.6" cy="531.4" r="1.7"/><circle cx="486.2" cy="525.8" r="1.7"/><circle cx="498.8" cy="521.5" r="1.7"/><circle cx="511.4" cy="516.5" r="1.7"/><circle cx="524.0" cy="511.5" r="1.7"/><circle cx="536.6" cy="506.9" r="1.7"/><circle cx="549.2" cy="501.6" r="1.7"/><circle cx="561.8" cy="495.1" r="1.7"/><circle cx="574.4" cy="490.1" r="1.7"/><circle cx="587.0" cy="490.1" r="1.7"/><circle cx="599.6" cy="485.4" r="1.7"/><circle cx="612.2" cy="480.1" r="1.7"/><circle cx="624.8" cy="480.1" r="1.7"/><circle cx="637.4" cy="475.1" r="1.7"/><circle cx="650.0" cy="470.8" r="1.7"/><circle cx="662.6" cy="465.8" r="1.7"/><circle cx="675.2" cy="465.2" r="1.7"/><circle cx="687.8" cy="461.2" r="1.7"/><circle cx="700.4" cy="461.2" r="1.7"/><circle cx="713.0" cy="455.0" r="1.7"/><circle cx="725.6" cy="455.0" r="1.7"/><circle cx="738.2" cy="449.7" r="1.7"/><circle cx="750.8" cy="449.7" r="1.7"/><circle cx="763.4" cy="444.4" r="1.7"/><circle cx="776.0" cy="444.4" r="1.7"/><circle cx="788.6" cy="439.1" r="1.7"/><circle cx="801.2" cy="439.1" r="1.7"/><circle cx="813.8" cy="439.1" r="1.7"/><circle cx="826.4" cy="435.1" r="1.7"/><circle cx="839.0" cy="435.1" r="1.7"/><circle cx="851.6" cy="429.8" r="1.7"/><circle cx="864.2" cy="429.8" r="1.7"/><circle cx="876.8" cy="424.5" r="1.7"/><circle cx="889.4" cy="424.5" r="1.7"/><circle cx="902.0" cy="424.5" r="1.7"/><circle cx="914.6" cy="424.5" r="1.7"/><circle cx="927.2" cy="419.2" r="1.7"/><circle cx="939.8" cy="419.2" r="1.7"/><circle cx="952.4" cy="419.2" r="1.7"/></g>
<rect x="348.79999999999995" y="256.7" width="23.8" height="4.3" fill="#e2121e" stroke="#2a2a2a" stroke-opacity="0.55" stroke-width="0.7"/><text x="360.4" y="271.4" fill="#151515" font-size="7.8" text-anchor="middle">Atmospheric Pressure [kPa]</text>
<rect x="593.1999999999999" y="256.7" width="23.8" height="4.3" fill="#1616dc" stroke="#2a2a2a" stroke-opacity="0.55" stroke-width="0.7"/><text x="604.8" y="271.4" fill="#151515" font-size="7.8" text-anchor="middle">Battery Voltage [Volts]</text>
<rect x="838.0" y="256.7" width="23.8" height="4.3" fill="#15826e" stroke="#2a2a2a" stroke-opacity="0.55" stroke-width="0.7"/><text x="849.6" y="271.4" fill="#151515" font-size="7.8" text-anchor="middle">Boost Pressure [kPa]</text>
<rect x="348.79999999999995" y="276.8" width="23.8" height="4.3" fill="#7a0c20" stroke="#2a2a2a" stroke-opacity="0.55" stroke-width="0.7"/><text x="360.4" y="291.2" fill="#151515" font-size="7.8" text-anchor="middle">Desired Engine Speed [rpm]</text>
<rect x="593.1999999999999" y="276.8" width="23.8" height="4.3" fill="#909a24" stroke="#2a2a2a" stroke-opacity="0.55" stroke-width="0.7"/><text x="604.8" y="291.2" fill="#151515" font-size="7.8" text-anchor="middle">Engine Speed [rpm]</text>
<rect x="838.0" y="276.8" width="23.8" height="4.3" fill="#16167c" stroke="#2a2a2a" stroke-opacity="0.55" stroke-width="0.7"/><text x="849.6" y="291.2" fill="#151515" font-size="7.8" text-anchor="middle">Intake Manifold Air Temperature [Deg C]</text>
<text x="152.8" y="260.9" fill="#222" font-size="7.57">-9.840, 99.970</text>
</g>
</g>
</svg>
</body></html>
